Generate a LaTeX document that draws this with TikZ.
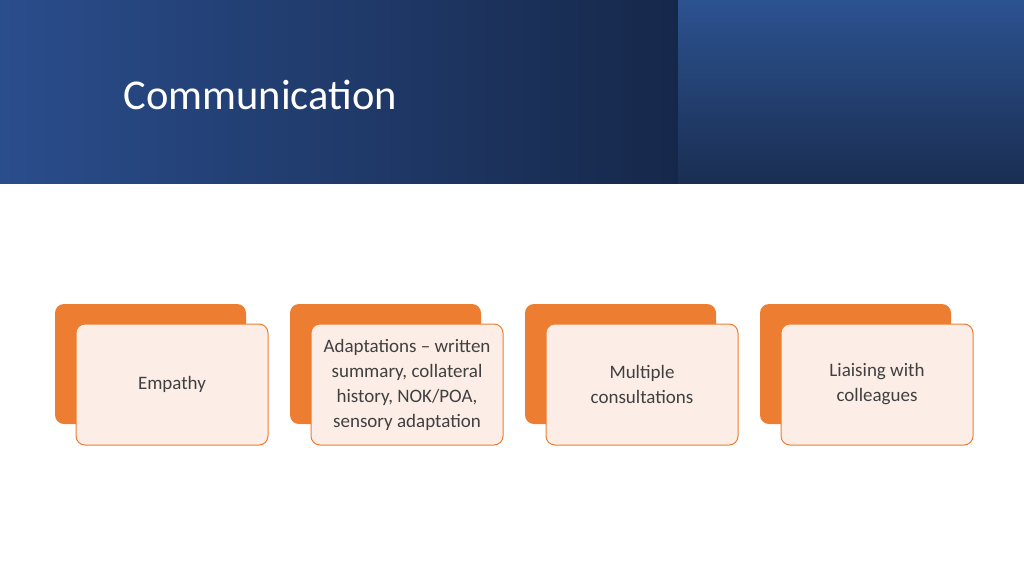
\documentclass[tikz,border=0pt]{standalone}
\usepackage{fontspec}
\setmainfont{Carlito}
\usepackage{tikz}
\usetikzlibrary{positioning}
\definecolor{hdrA}{HTML}{2A4D8C}
\definecolor{hdrB}{HTML}{16284A}
\definecolor{hdrC}{HTML}{2C5290}
\definecolor{hdrD}{HTML}{1A2E52}
\definecolor{orng}{HTML}{ED7D31}
\definecolor{peach}{HTML}{FCEEE7}

\begin{document}
\begin{tikzpicture}[x=1pt,y=-1pt,
    back/.style = {rectangle, rounded corners=9pt, fill=orng,% orange card behind
                   minimum width=191pt, minimum height=120pt, outer sep=0pt},
    front/.style = {rectangle, rounded corners=9pt, fill=peach, draw=orng, line width=1pt,% text card
                   minimum width=192pt, minimum height=121pt, outer sep=0pt,
                   align=center, font=\fontsize{19}{25}\selectfont, text=black!75},
                        ]
\useasboundingbox (0,0) rectangle (1024,576);
\fill[white] (0,0) rectangle (1024,576);
% header
\shade[left color=hdrA, right color=hdrB] (0,0) rectangle (678,183);
\shade[top color=hdrC, bottom color=hdrD] (678,0) rectangle (1024,183);
\node[anchor=west, text=white, font=\fontsize{42.5}{46}\selectfont] (title) at (120,95) {Communication};
% cards
\foreach \i/\t in {0/{Empathy},
                   1/{Adaptations -- written\\summary, collateral\\history, NOK/POA,\\sensory adaptation},
                   2/{Multiple\\consultations},
                   3/{Liaising with\\colleagues}}% <-- content of cards
  {
  \node[back] (b\i) at (150.5+235*\i,364) {};
  \node[front] (f\i) at (172+235*\i,384.5) {\t};
  }
\end{tikzpicture}
\end{document}
